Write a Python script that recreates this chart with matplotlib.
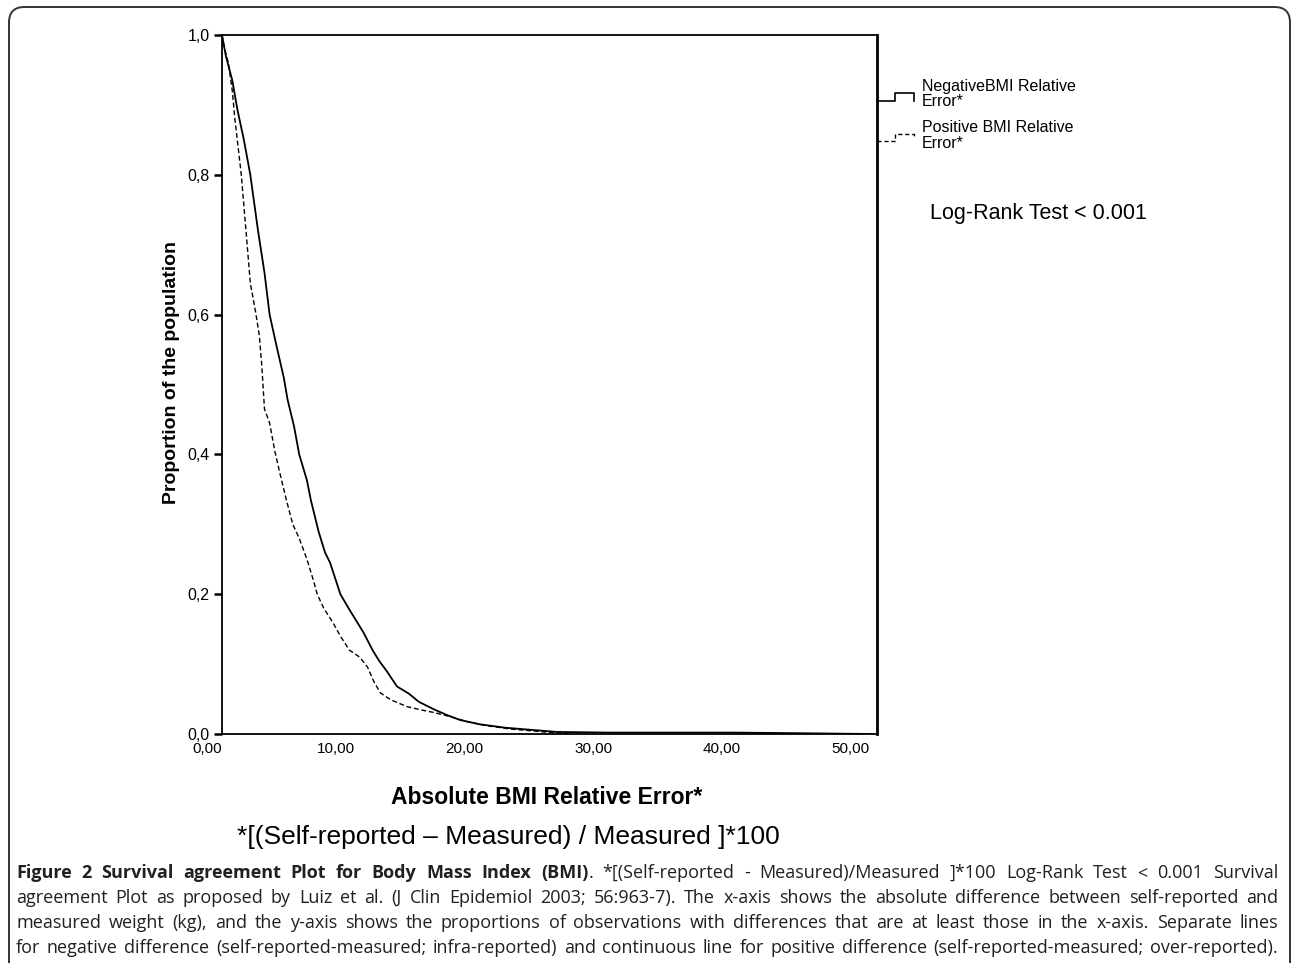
import numpy as np
import matplotlib
matplotlib.use("Agg")
import matplotlib.pyplot as plt
from matplotlib.lines import Line2D
from matplotlib.patches import FancyBboxPatch
from matplotlib.transforms import ScaledTranslation

# survival agreement curves
neg_x = [0, 0.3, 0.8, 1.2, 1.7, 2.2, 2.8, 3.3, 3.7, 4.3, 4.8, 5.1, 5.6, 6.0, 6.6, 6.9, 7.5, 8.0, 8.4,
         9.2, 9.9, 10.5, 11.0, 11.7, 12.2, 12.8, 13.6, 14.5, 15.3, 16.5, 17.5, 18.5, 20.0, 22.0, 24.0,
         26.0, 30.0, 35.0, 40.0, 45.5, 50.5]
neg_y = [1.0, 0.97, 0.935, 0.893, 0.85, 0.80, 0.72, 0.66, 0.60, 0.55, 0.51, 0.478, 0.44, 0.40, 0.363,
         0.335, 0.29, 0.26, 0.245, 0.20, 0.178, 0.16, 0.145, 0.12, 0.105, 0.09, 0.068, 0.058, 0.046,
         0.035, 0.027, 0.02, 0.014, 0.009, 0.006, 0.003, 0.002, 0.002, 0.002, 0.001, 0.0]
pos_x = [0, 0.2, 0.5, 0.8, 1.0, 1.5, 2.0, 2.2, 2.6, 2.9, 3.1, 3.3, 3.7, 4.1, 4.5, 5.0, 5.5, 6.0, 6.6,
         7.1, 7.4, 7.9, 8.6, 9.2, 9.9, 10.7, 11.3, 11.8, 12.3, 13.1, 14.4, 15.6, 16.4, 17.5, 19.0,
         20.5, 22.5, 25.0, 27.0]
pos_y = [1.0, 0.98, 0.96, 0.92, 0.88, 0.80, 0.69, 0.645, 0.605, 0.57, 0.525, 0.465, 0.445, 0.405,
         0.373, 0.335, 0.30, 0.28, 0.25, 0.22, 0.20, 0.18, 0.16, 0.14, 0.12, 0.11, 0.096, 0.075,
         0.059, 0.049, 0.039, 0.034, 0.031, 0.026, 0.018, 0.012, 0.007, 0.003, 0.0]

x_ticks = [0, 10, 20, 30, 40, 50]
x_ticklabels = ["0,00", "10,00", "20,00", "30,00", "40,00", "50,00"]
y_ticks = [0.0, 0.2, 0.4, 0.6, 0.8, 1.0]
y_ticklabels = ["0,0", "0,2", "0,4", "0,6", "0,8", "1,0"]

W, H = 1292, 963
fig = plt.figure(figsize=(W / 100, H / 100), dpi=100)
plt.rcParams['font.family'] = ['Liberation Sans', 'DejaVu Sans']


def fx(x):
    return x / W


def fy(y):
    return 1 - y / H


# outer rounded frame
frame = FancyBboxPatch((fx(9), fy(990)), fx(1290) - fx(9), fy(7) - fy(990),
                       boxstyle="round,pad=0,rounding_size=0.012", transform=fig.transFigure,
                       fill=False, edgecolor="#333333", linewidth=1.4, mutation_aspect=W / H)
fig.patches.append(frame)

ax = fig.add_axes([fx(222), fy(734), fx(877) - fx(222), fy(35) - fy(734)])
ax.plot(neg_x, neg_y, color="black", linewidth=1.3)
ax.plot(pos_x, pos_y, color="black", linewidth=1.0, linestyle=(0, (3.5, 2)))
ax.set_xlim(0, 50.9)
ax.set_ylim(0, 1.0)
ax.set_xticks(x_ticks)
ax.set_xticklabels(x_ticklabels, fontsize=11)
ax.set_yticks(y_ticks)
ax.set_yticklabels(y_ticklabels, fontsize=11.5)
ax.tick_params(axis="y", direction="out", length=6, width=1.8, pad=3)
ax.tick_params(axis="x", length=0, pad=6)
for lab in ax.get_xticklabels():
    lab.set_transform(lab.get_transform() + ScaledTranslation(-0.15, 0, fig.dpi_scale_trans))
for s in ax.spines.values():
    s.set_linewidth(1.3)
ax.spines["right"].set_linewidth(2.0)

fig.text(fx(172), fy(372), "Proportion of the population", rotation=90, ha="center", va="center",
         fontsize=14, fontweight="bold")
fig.text(fx(547), fy(797), "Absolute BMI Relative Error*", ha="center", va="center",
         fontsize=16.5, fontweight="bold")
fig.text(fx(508), fy(837), "*[(Self-reported \u2013 Measured) / Measured ]*100", ha="center",
         va="center", fontsize=19)

# legend, SPSS style
fig.lines.append(Line2D([fx(877), fx(895), fx(895), fx(914), fx(914)],
                        [fy(101), fy(101), fy(93), fy(93), fy(101)],
                        transform=fig.transFigure, color="black", linewidth=1.2))
fig.lines.append(Line2D([fx(877), fx(895), fx(895), fx(914), fx(914)],
                        [fy(141), fy(141), fy(134), fy(134), fy(138)],
                        transform=fig.transFigure, color="black", linewidth=1.0,
                        linestyle=(0, (3, 2))))
for txt, y in [("NegativeBMI Relative", 87), ("Error*", 102),
               ("Positive BMI Relative", 128), ("Error*", 144)]:
    fig.text(fx(922), fy(y), txt, ha="left", va="center", fontsize=11.5)
fig.text(fx(930), fy(213), "Log-Rank Test < 0.001", ha="left", va="center", fontsize=15.5)

# justified caption
cap_lines = [
    [[("Figure", 1)], [("2", 1)], [("Survival", 1)], [("agreement", 1)], [("Plot", 1)], [("for", 1)],
     [("Body", 1)], [("Mass", 1)], [("Index", 1)], [("(BMI)", 1), (".", 0)]]
    + [[(w, 0)] for w in "*[(Self-reported - Measured)/Measured ]*100 Log-Rank Test < 0.001 Survival".split()],
    [[(w, 0)] for w in ("agreement Plot as proposed by Luiz et al. (J Clin Epidemiol 2003; 56:963-7). "
                        "The x-axis shows the absolute difference between self-reported and").split()],
    [[(w, 0)] for w in ("measured weight (kg), and the y-axis shows the proportions of observations with "
                        "differences that are at least those in the x-axis. Separate lines").split()],
    [[(w, 0)] for w in ("for negative difference (self-reported-measured; infra-reported) and continuous "
                        "line for positive difference (self-reported-measured; over-reported).").split()],
]
cap_y = [873, 898, 923, 948]
left, right = 16, 1278
renderer = fig.canvas.get_renderer()
for words, y in zip(cap_lines, cap_y):
    placed = []
    total = 0
    for word in words:
        parts = []
        for s, b in word:
            t = fig.text(0, fy(y), s, ha="left", va="center", fontsize=13, family="Open Sans",
                         fontweight="bold" if b else "normal", color="#231f20")
            w = t.get_window_extent(renderer).width
            parts.append((t, w))
            total += w
        placed.append(parts)
    gap = (right - left - total) / (len(placed) - 1)
    x = left
    for parts in placed:
        for t, w in parts:
            t.set_x(fx(x))
            x += w
        x += gap

fig.savefig("out.png", dpi=100)
